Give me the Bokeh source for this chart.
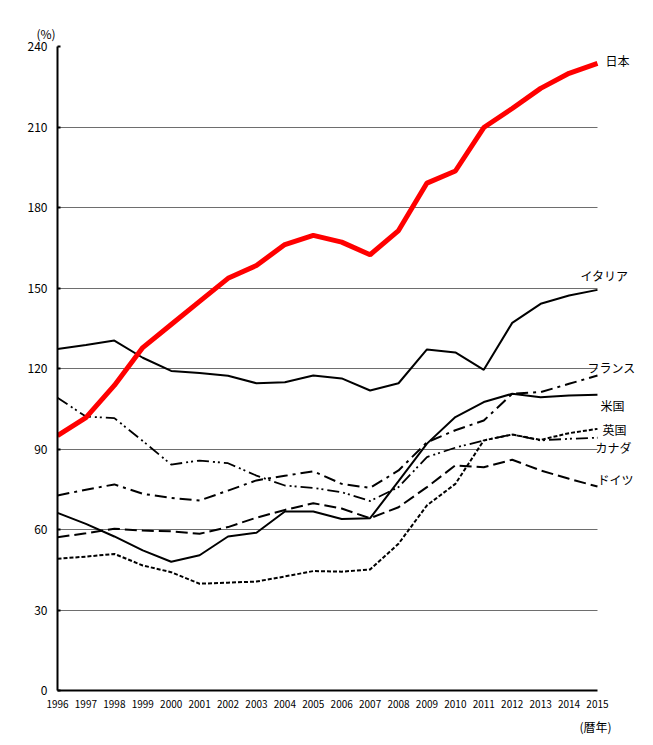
from bokeh.plotting import figure
from bokeh.models import Range1d, Label, FixedTicker, Title
from bokeh.embed import file_html
from bokeh.resources import INLINE

years = list(range(1996, 2016))

japan   = [95.0, 101.7, 113.7, 127.8, 136.4, 145.0, 153.6, 158.4, 166.2, 169.6,
           167.1, 162.4, 171.4, 189.1, 193.6, 209.8, 216.9, 224.4, 230.0, 233.7]
italy   = [127.3, 128.8, 130.4, 124.0, 119.1, 118.3, 117.3, 114.5, 114.9, 117.4,
           116.3, 111.8, 114.5, 127.1, 126.0, 119.5, 137.0, 144.1, 147.2, 149.3]
france  = [72.7, 74.8, 76.8, 73.3, 71.8, 70.8, 74.5, 78.3, 80.0, 81.7,
           77.0, 75.5, 82.0, 92.5, 97.0, 100.6, 110.6, 111.2, 114.3, 117.4]
usa     = [66.2, 62.1, 57.4, 52.2, 48.0, 50.4, 57.4, 58.8, 66.7, 66.7,
           63.9, 64.2, 78.0, 92.0, 101.9, 107.5, 110.6, 109.3, 109.9, 110.2]
uk      = [49.1, 49.9, 50.9, 46.6, 44.1, 39.8, 40.2, 40.6, 42.5, 44.5,
           44.3, 45.1, 54.7, 69.0, 77.0, 93.2, 95.4, 93.4, 95.9, 97.5]
canada  = [109.1, 102.1, 101.5, 93.0, 84.2, 85.7, 84.7, 80.1, 76.4, 75.5,
           73.9, 70.6, 75.8, 87.0, 90.5, 93.2, 95.4, 93.2, 93.8, 94.2]
germany = [57.1, 58.6, 60.3, 59.6, 59.3, 58.4, 60.9, 64.4, 67.3, 69.8,
           67.8, 64.2, 68.3, 75.8, 83.9, 83.2, 86.0, 82.0, 78.9, 76.0]

y_ticks = [0, 30, 60, 90, 120, 150, 180, 210, 240]

names = ["日本", "イタリア", "フランス", "米国", "英国", "カナダ", "ドイツ"]
last_values = [japan[-1], italy[-1], france[-1], usa[-1], uk[-1], canada[-1], germany[-1]]

JP = "Noto Sans CJK JP"

p = figure(width=650, height=740, frame_width=588, frame_height=644,
           min_border_left=57, min_border_right=5, min_border_top=46, min_border_bottom=50,
           x_range=Range1d(1996, 2016.69), y_range=Range1d(0, 240),
           output_backend="svg", toolbar_location=None)
p.outline_line_color = None
p.background_fill_color = "white"

# grid
p.xgrid.grid_line_color = None
p.ygrid.ticker = FixedTicker(ticks=y_ticks)
p.ygrid.grid_line_color = "#6e6e6e"
p.ygrid.grid_line_width = 1
p.ygrid.cross_bounds = (1996, 2015)

# axes
p.yaxis.ticker = FixedTicker(ticks=y_ticks)
p.xaxis.ticker = FixedTicker(ticks=years)
p.xaxis.bounds = (1996, 2015)
for ax in (p.xaxis, p.yaxis):
    ax.axis_line_color = "black"
    ax.axis_line_width = 2
    ax.major_label_text_font = JP
    ax.major_label_text_color = "black"
    ax.minor_tick_line_color = None
p.yaxis.major_tick_in = 3
p.yaxis.major_tick_out = 0
p.yaxis.major_tick_line_width = 2
p.yaxis.major_label_text_font_size = "12px"
p.yaxis.major_label_standoff = 10
p.xaxis.major_tick_line_color = None
p.xaxis.major_label_text_font_size = "10px"
p.xaxis.major_label_standoff = 3

# lines
p.line(years, germany, line_color="black", line_width=2, line_dash="12 5")
p.line(years, uk, line_color="black", line_width=2, line_dash="4 2")
p.line(years, canada, line_color="black", line_width=1.8, line_dash="12 4 2 3 2 4")
p.line(years, usa, line_color="black", line_width=2)
p.line(years, france, line_color="black", line_width=2, line_dash="12 5 3 5")
p.line(years, italy, line_color="black", line_width=2)
p.line(years, japan, line_color="#ff0000", line_width=5)

# series labels (placed beside line ends, nudged apart)
label_y_shift = [1.1, 5.4, 3.0, -4.0, -0.2, -3.6, 2.6]
label_dx = [8, -17, -10, 3, 5, -2, 0]
for name, v, dy, dx in zip(names, last_values, label_y_shift, label_dx):
    p.add_layout(Label(x=2015, y=v + dy, text=name, x_offset=dx, text_baseline="middle",
                       text_align="left", text_font=JP, text_font_size="12px",
                       text_color="black"))

p.add_layout(Title(text="(%)", align="left", offset=-21, text_font=JP,
                   text_font_size="12px", text_font_style="normal",
                   text_color="black"), "above")
p.add_layout(Title(text="(暦年)", align="left", offset=522, text_font=JP,
                   text_font_size="12px", text_font_style="normal",
                   text_color="black"), "below")

open("out.html", "w").write(file_html(p, INLINE))
